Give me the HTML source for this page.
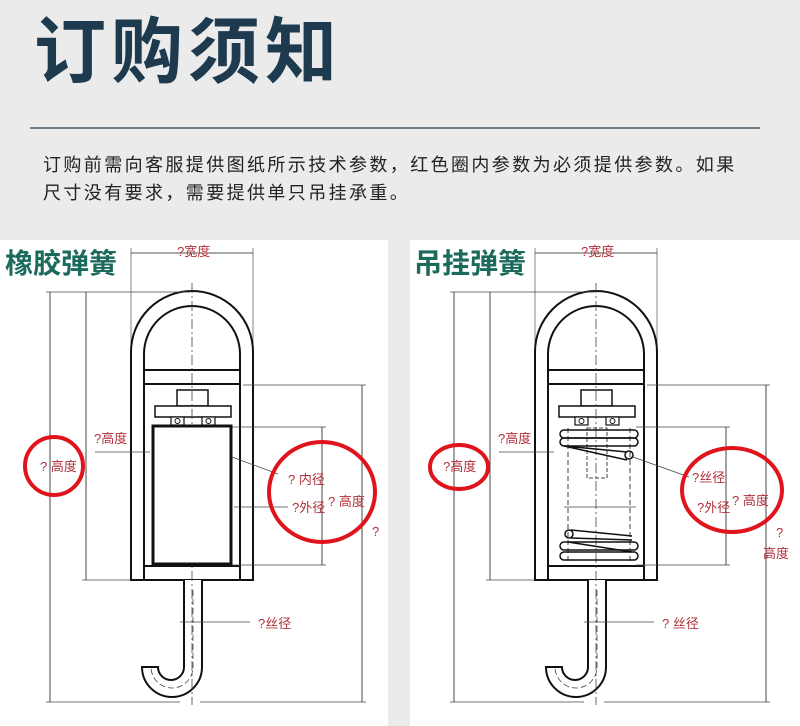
<!DOCTYPE html>
<html><head><meta charset="utf-8"><style>
html,body{margin:0;padding:0}
body{width:800px;height:726px;background:#ebebeb;position:relative;overflow:hidden;font-family:"Liberation Sans","Noto Sans CJK SC",sans-serif}
.t{position:absolute;white-space:nowrap}
</style></head><body>
<div class="t" style="left:34px;top:8px;font-size:72px;color:#1d3a4e;letter-spacing:5px;line-height:90px;font-weight:bold">订购须知</div>
<div style="position:absolute;left:30px;top:127px;width:730px;height:2px;background:#6f7b86"></div>
<div class="t" style="left:43px;top:151px;font-size:18px;color:#222;letter-spacing:2.4px;line-height:28px">订购前需向客服提供图纸所示技术参数，红色圈内参数为必须提供参数。如果<br>尺寸没有要求，需要提供单只吊挂承重。</div>
<div style="position:absolute;left:0;top:240px;width:388px;height:486px;background:#fff"></div>
<div style="position:absolute;left:410px;top:240px;width:390px;height:486px;background:#fff"></div>
<div class="t" style="left:5px;top:246px;font-size:28px;color:#1b6a5c;line-height:36px;font-weight:bold">橡胶弹簧</div>
<div class="t" style="left:414px;top:246px;font-size:28px;color:#1b6a5c;line-height:36px;font-weight:bold">吊挂弹簧</div>
<svg width="800" height="726" style="position:absolute;left:0;top:0" font-family="Liberation Sans,Noto Sans CJK SC,sans-serif">
<defs>
<g id="frame">
 <line x1="131" y1="253" x2="253" y2="253" stroke="#555" stroke-width="1"/>
 <line x1="131" y1="248" x2="131" y2="370" stroke="#666" stroke-width="0.8"/>
 <line x1="253" y1="248" x2="253" y2="360" stroke="#666" stroke-width="0.8"/>
 <path d="M131 580 V352 A61 61 0 0 1 253 352 V580 Z" fill="none" stroke="#111" stroke-width="2"/>
 <path d="M144 580 V354 A48 48 0 0 1 240 354 V580" fill="none" stroke="#111" stroke-width="2"/>
 <line x1="144" y1="370" x2="240" y2="370" stroke="#111" stroke-width="2"/>
 <line x1="144" y1="384" x2="240" y2="384" stroke="#111" stroke-width="2"/>
 <line x1="144" y1="566" x2="240" y2="566" stroke="#111" stroke-width="2"/>
 <rect x="177" y="390" width="31" height="16" fill="#fff" stroke="#111" stroke-width="1.5"/>
 <rect x="155" y="406" width="76" height="11" fill="#fff" stroke="#111" stroke-width="1.5"/>
 <rect x="171" y="417" width="13" height="8" fill="#fff" stroke="#111" stroke-width="1.2"/>
 <rect x="202" y="417" width="13" height="8" fill="#fff" stroke="#111" stroke-width="1.2"/>
 <circle cx="177.5" cy="421" r="2.5" fill="none" stroke="#111"/>
 <circle cx="208.5" cy="421" r="2.5" fill="none" stroke="#111"/>
 <path d="M184 580 V667 A13 13 0 0 1 158 667 H142 A30 30 0 0 0 202 667 V580" fill="#fff" stroke="#111" stroke-width="2"/>
 <path d="M193 590 V667 A21 21 0 0 1 151 667" fill="none" stroke="#444" stroke-width="0.8" stroke-dasharray="6,3"/>
 <line x1="192" y1="283" x2="192" y2="705" stroke="#444" stroke-width="0.8" stroke-dasharray="10,3,2,3"/>
 <line x1="50" y1="292" x2="50" y2="702" stroke="#444" stroke-width="1"/>
 <line x1="86" y1="292" x2="86" y2="580" stroke="#444" stroke-width="1"/>
 <line x1="46" y1="292" x2="190" y2="292" stroke="#444" stroke-width="0.8"/>
 <line x1="82" y1="580" x2="131" y2="580" stroke="#444" stroke-width="0.8"/>
 <line x1="46" y1="702" x2="180" y2="702" stroke="#444" stroke-width="0.8"/>
 <line x1="243" y1="385" x2="366" y2="385" stroke="#444" stroke-width="0.8"/>
 <line x1="362" y1="385" x2="362" y2="702" stroke="#444" stroke-width="1"/>
 <line x1="200" y1="702" x2="366" y2="702" stroke="#444" stroke-width="0.8"/>
 <line x1="232" y1="427" x2="326" y2="427" stroke="#444" stroke-width="0.8"/>
 <line x1="232" y1="565" x2="326" y2="565" stroke="#444" stroke-width="0.8"/>
 <line x1="322" y1="427" x2="322" y2="565" stroke="#444" stroke-width="1"/>
 <line x1="95" y1="452" x2="150" y2="452" stroke="#444" stroke-width="0.8"/>
 <line x1="180" y1="622" x2="250" y2="622" stroke="#444" stroke-width="0.8"/>
</g>
</defs>
<use href="#frame"/>
<rect x="153" y="426" width="78" height="138" fill="#fff" stroke="#111" stroke-width="3"/>
<line x1="232" y1="457" x2="278" y2="474" stroke="#444" stroke-width="0.8"/>
<line x1="234" y1="507" x2="288" y2="507" stroke="#444" stroke-width="0.8"/>
<g transform="translate(404,0)">
<use href="#frame"/>
<g fill="none" stroke="#111" stroke-width="1.5">
 <line x1="164" y1="428" x2="164" y2="564" stroke-dasharray="5,3" stroke-width="0.8"/>
 <line x1="226" y1="428" x2="226" y2="564" stroke-dasharray="5,3" stroke-width="0.8"/>
 <rect x="183" y="428" width="20" height="50" stroke-width="0.8" stroke-dasharray="4,2"/>
 <path d="M160 430 h70 a4 4 0 0 1 0 8 h-70 a4 4 0 0 1 0 -8"/>
 <path d="M160 438 h70 a4 4 0 0 1 0 8 h-70 a4 4 0 0 1 0 -8"/>
 <path d="M160 446 L223 452 M160 446 L223 460"/>
 <circle cx="225" cy="455" r="4"/>
 <circle cx="165" cy="534" r="4"/>
 <path d="M167 530 L228 536 M167 538 L228 540"/>
 <path d="M160 542 h70 a4 4 0 0 1 0 8 h-70 a4 4 0 0 1 0 -8"/>
 <path d="M160 552 h70 a4 4 0 0 1 0 8 h-70 a4 4 0 0 1 0 -8"/>
 <path d="M164 542 L228 552"/>
 <line x1="160" y1="507" x2="232" y2="507" stroke-width="0.8" stroke="#444"/>
</g>
<line x1="229" y1="457" x2="285" y2="477" stroke="#444" stroke-width="0.8"/>
</g>
<g fill="none" stroke="#e0141c" stroke-width="4">
 <circle cx="54" cy="466" r="29"/>
 <ellipse cx="322" cy="492" rx="53" ry="50"/>
 <ellipse cx="459" cy="467" rx="29" ry="22"/>
 <ellipse cx="732" cy="490" rx="50" ry="42"/>
</g>
<g fill="#b0303a" font-size="13">
 <text x="177" y="256">?宽度</text>
 <text x="581" y="256">?宽度</text>
 <text x="94" y="443">?高度</text>
 <text x="40" y="471">? 高度</text>
 <text x="288" y="484">? 内径</text>
 <text x="292" y="512">?外径</text>
 <text x="328" y="506">? 高度</text>
 <text x="372" y="536">?</text>
 <text x="258" y="628">?丝径</text>
 <text x="498" y="443">?高度</text>
 <text x="443" y="471">?高度</text>
 <text x="692" y="482">?丝径</text>
 <text x="697" y="512">?外径</text>
 <text x="732" y="505">? 高度</text>
 <text x="776" y="537">?</text>
 <text x="763" y="558">高度</text>
 <text x="662" y="628">? 丝径</text>
</g>
</svg>
</body></html>
